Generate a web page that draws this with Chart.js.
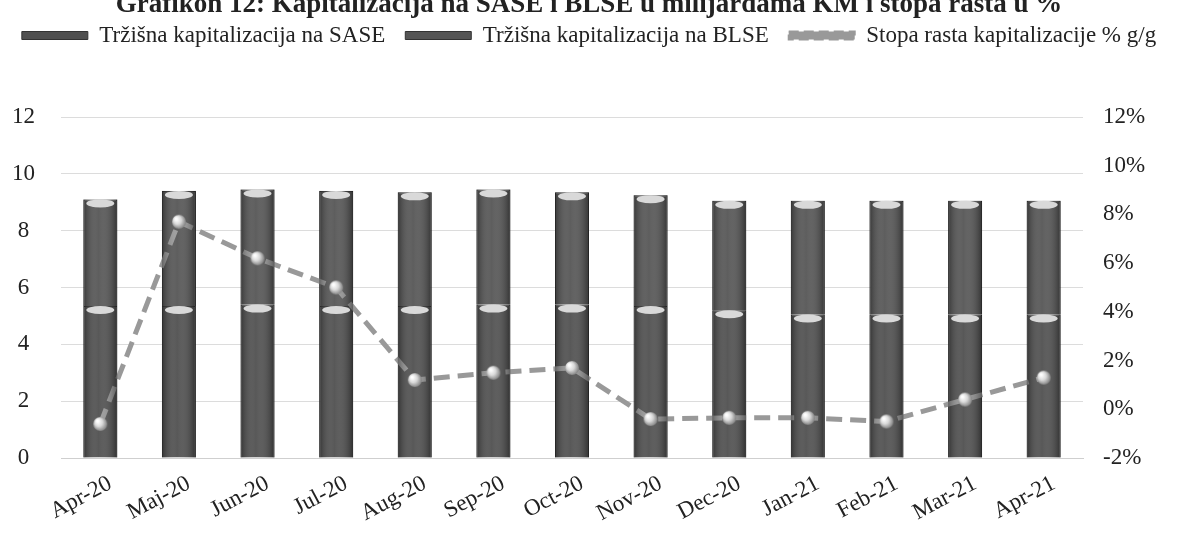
<!DOCTYPE html>
<html>
<head>
<meta charset="utf-8">
<script src="https://cdn.jsdelivr.net/npm/chart.js@4"></script>
<style>
  html, body { margin: 0; padding: 0; background: #fff; overflow: hidden; }
  #wrap { position: relative; width: 1178px; height: 544px; }
  #title {
    position: absolute; top: -12px; left: 0; width: 1178px; text-align: center;
    font: bold 27px "Liberation Serif", serif; color: #222; z-index: 2;
  }
  canvas { position: absolute; top: 0; left: 0; }
</style>
</head>
<body>
<div id="wrap">
  <div id="title">Grafikon 12: Kapitalizacija na SASE i BLSE u milijardama KM i stopa rasta u %</div>
  <canvas id="capChart" width="1178" height="544"></canvas>
</div>
<script>
// data
const months = ['Apr-20', 'Maj-20', 'Jun-20', 'Jul-20', 'Aug-20', 'Sep-20', 'Oct-20',
                'Nov-20', 'Dec-20', 'Jan-21', 'Feb-21', 'Mar-21', 'Apr-21'];
const saseCap = [5.35, 5.35, 5.4, 5.35, 5.35, 5.4, 5.4, 5.35, 5.2, 5.05, 5.05, 5.05, 5.05];
const blseCap = [3.75, 4.05, 4.05, 4.05, 4.0, 4.05, 3.95, 3.9, 3.85, 4.0, 4.0, 4.0, 4.0];
const growthPct = [-0.6, 7.7, 6.2, 5.0, 1.2, 1.5, 1.7, -0.4, -0.35, -0.35, -0.5, 0.4, 1.3];

const leftTicks = [0, 2, 4, 6, 8, 10, 12];
const rightTicks = [-2, 0, 2, 4, 6, 8, 10, 12];

const serif = '"Liberation Serif", "Times New Roman", serif';
const textColor = '#222';
const fontSize = 23;

// little shaded ball used as the line marker
function makeBall(r) {
    const c = document.createElement('canvas');
    c.width = c.height = r * 2 + 2;
    const g = c.getContext('2d');
    const grad = g.createRadialGradient(r - 2, r - 2, 1, r + 1, r + 1, r + 1);
    grad.addColorStop(0, '#ffffff');
    grad.addColorStop(0.45, '#d8d8d8');
    grad.addColorStop(1, '#6a6a6a');
    g.fillStyle = grad;
    g.beginPath();
    g.arc(r + 1, r + 1, r, 0, Math.PI * 2);
    g.fill();
    return c;
}
const ball = makeBall(7);

// cylinder look: shade each bar sideways and add a light cap at its top
const cylinderPlugin = {
    id: 'cylinder',
    afterDatasetsDraw(chart) {
        const ctx = chart.ctx;
        chart.data.datasets.forEach((ds, i) => {
            if (ds.type !== 'bar') return;
            chart.getDatasetMeta(i).data.forEach(bar => {
                const w = bar.width, x0 = bar.x - w / 2;
                const shade = ctx.createLinearGradient(x0, 0, x0 + w, 0);
                shade.addColorStop(0, 'rgba(0,0,0,0.35)');
                shade.addColorStop(0.45, 'rgba(255,255,255,0.05)');
                shade.addColorStop(1, 'rgba(0,0,0,0.4)');
                ctx.save();
                ctx.fillStyle = shade;
                ctx.fillRect(x0, bar.y, w, bar.base - bar.y);
                ctx.beginPath();
                ctx.ellipse(bar.x, bar.y + 4, w / 2 - 3, 4, 0, 0, Math.PI * 2);
                ctx.fillStyle = '#d9d9d9';
                ctx.fill();
                ctx.restore();
            });
        });
    }
};

// give the legend extra room below it so the plot starts where the original does
const legendSpace = {
    id: 'legendSpace',
    beforeInit(chart) {
        const fit = chart.legend.fit;
        chart.legend.fit = function () {
            fit.call(this);
            this.height += 60;
        };
    }
};

const ctx = document.getElementById('capChart');
new Chart(ctx, {
    data: {
        labels: months,
        datasets: [
            {
                type: 'bar',
                label: 'Tržišna kapitalizacija na SASE',
                data: saseCap,
                backgroundColor: '#4f4f4f',
                borderColor: '#333',
                borderWidth: 1,
                yAxisID: 'y',
                stack: 'cap',
                order: 2,
                barPercentage: 0.48,
                categoryPercentage: 0.9
            },
            {
                type: 'bar',
                label: 'Tržišna kapitalizacija na BLSE',
                data: blseCap,
                backgroundColor: '#555',
                borderColor: '#333',
                borderWidth: 1,
                yAxisID: 'y',
                stack: 'cap',
                order: 2,
                barPercentage: 0.48,
                categoryPercentage: 0.9
            },
            {
                type: 'line',
                label: 'Stopa rasta kapitalizacije % g/g',
                data: growthPct,
                yAxisID: 'y1',
                borderColor: '#999',
                backgroundColor: '#999',
                borderWidth: 5,
                borderDash: [16, 8],
                tension: 0,
                pointStyle: ball,
                pointRadius: 7,
                order: 0
            }
        ]
    },
    options: {
        responsive: false,
        animation: false,
        layout: { padding: { top: 4, left: 0, right: 0, bottom: 0 } },
        plugins: {
            legend: {
                position: 'top',
                labels: {
                    boxWidth: 66,
                    boxHeight: 8,
                    padding: 20,
                    color: textColor,
                    font: { family: serif, size: fontSize },
                    sort: (a, b) => a.datasetIndex - b.datasetIndex,
                    generateLabels(chart) {
                        const items = Chart.defaults.plugins.legend.labels.generateLabels(chart);
                        items.forEach(it => {
                            if (chart.data.datasets[it.datasetIndex].type === 'line') {
                                it.lineWidth = 2;
                                it.lineDash = [10, 5];
                            }
                        });
                        return items;
                    }
                }
            },
            tooltip: { enabled: false }
        },
        scales: {
            x: {
                stacked: true,
                grid: { display: false },
                border: { color: '#cfcfcf' },
                ticks: {
                    color: textColor,
                    font: { family: serif, size: fontSize },
                    minRotation: 28,
                    maxRotation: 28,
                    padding: 4,
                    labelOffset: 10
                },
                afterFit(scale) { scale.height = 86; }
            },
            y: {
                stacked: true,
                position: 'left',
                min: 0,
                max: 12,
                afterBuildTicks(scale) { scale.ticks = leftTicks.map(v => ({ value: v })); },
                grid: { color: '#dcdcdc', drawTicks: false },
                border: { display: false },
                ticks: {
                    color: textColor,
                    font: { family: serif, size: fontSize },
                    crossAlign: 'center',
                    padding: 26
                },
                afterFit(scale) { scale.width = 61; }
            },
            y1: {
                position: 'right',
                min: -2,
                max: 12,
                afterBuildTicks(scale) { scale.ticks = rightTicks.map(v => ({ value: v })); },
                grid: { display: false, drawTicks: false },
                border: { display: false },
                ticks: {
                    color: textColor,
                    font: { family: serif, size: fontSize },
                    padding: 20,
                    callback: v => v + '%'
                },
                afterFit(scale) { scale.width = 95; }
            }
        }
    },
    plugins: [cylinderPlugin, legendSpace]
});
</script>
</body>
</html>
